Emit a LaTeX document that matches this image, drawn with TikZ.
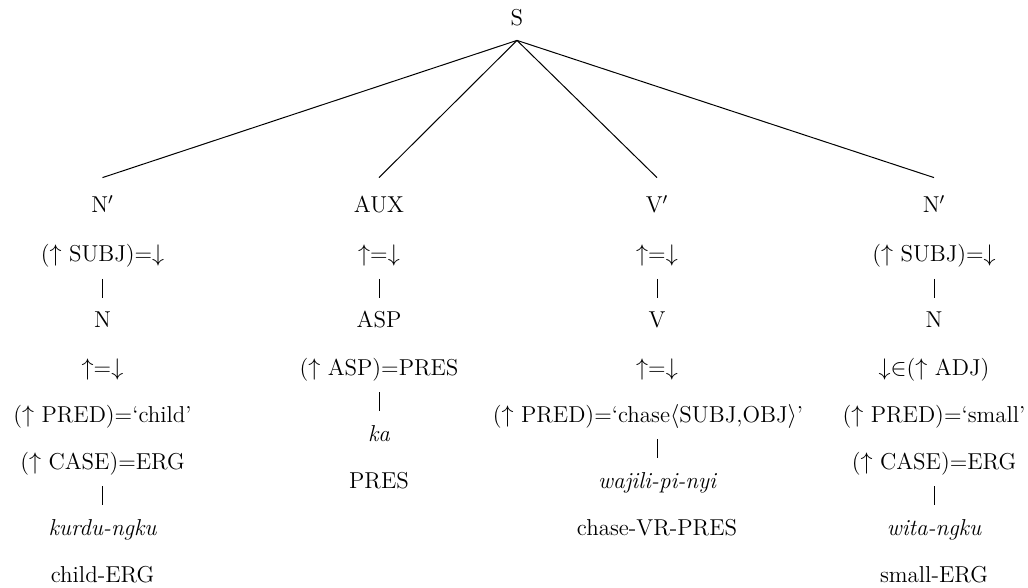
\documentclass[tikz,border=0pt]{standalone}
\begin{document}
\begin{tikzpicture}[x=0.5pt,y=-0.5pt,
  lbl/.style={anchor=base, inner sep=0pt, font=\fontsize{11.5}{14}\selectfont},
  root/.style={lbl, text depth=0pt, inner ysep=7pt},
  cat/.style={lbl, text height=8pt, inner ysep=9.5pt},
  bar/.style={shorten <=8.5pt, shorten >=15pt},
  branch/.style={line width=0.5pt}]
\useasboundingbox (0,0) rectangle (1028,588);
% root
\node[root] (S) at (517,26) {S};
% categories
\node[cat] (c1) at (102.5,213) {N$'$};
\node[cat] (c2) at (379,213) {AUX};
\node[cat] (c3) at (657,213) {V$'$};
\node[cat] (c4) at (934,213) {N$'$};
\foreach \c in {c1,c2,c3,c4} \draw[branch] (S.south) -- (\c.north);
% column 1
\node[lbl] (a1) at (102.5,262) {($\uparrow$ SUBJ)=$\downarrow$};
\node[lbl] (n1) at (102.5,328) {N};
\node[lbl] (n1a) at (102.5,375) {$\uparrow$=$\downarrow$};
\node[lbl] (n1b) at (102.5,422) {($\uparrow$ PRED)=`child'};
\node[lbl] (n1c) at (102.5,469) {($\uparrow$ CASE)=ERG};
\node[lbl] (w1) at (102.5,535) {\itshape kurdu-ngku};
\node[lbl] (g1) at (102.5,582) {child-ERG};
\draw[bar] (a1.base) -- (n1.base);
\draw[bar] (n1c.base) -- (w1.base);
% column 2
\node[lbl] (a2) at (379,262) {$\uparrow$=$\downarrow$};
\node[lbl] (n2) at (379,328) {ASP};
\node[lbl] (n2a) at (379,375) {($\uparrow$ ASP)=PRES};
\node[lbl] (w2) at (379,441) {\itshape ka};
\node[lbl] (g2) at (379,488) {PRES};
\draw[bar] (a2.base) -- (n2.base);
\draw[bar] (n2a.base) -- (w2.base);
% column 3
\node[lbl] (a3) at (657,262) {$\uparrow$=$\downarrow$};
\node[lbl] (n3) at (657,328) {V};
\node[lbl] (n3a) at (657,375) {$\uparrow$=$\downarrow$};
\node[lbl] (n3b) at (648,422) {($\uparrow$ PRED)=`chase$\langle$SUBJ,OBJ$\rangle$'};
\node[lbl] (w3) at (657,488) {\itshape wajili-pi-nyi};
\node[lbl] (g3) at (657,535) {chase-VR-PRES};
\draw[bar] (a3.base) -- (n3.base);
\draw[bar] (n3a.base |- n3b.base) -- (w3.base);
% column 4
\node[lbl] (a4) at (934,262) {($\uparrow$ SUBJ)=$\downarrow$};
\node[lbl] (n4) at (934,328) {N};
\node[lbl] (n4a) at (934,375) {$\downarrow$$\in$($\uparrow$ ADJ)};
\node[lbl] (n4b) at (934,422) {($\uparrow$ PRED)=`small'};
\node[lbl] (n4c) at (934,469) {($\uparrow$ CASE)=ERG};
\node[lbl] (w4) at (934,535) {\itshape wita-ngku};
\node[lbl] (g4) at (934,582) {small-ERG};
\draw[bar] (a4.base) -- (n4.base);
\draw[bar] (n4c.base) -- (w4.base);
\end{tikzpicture}
\end{document}
